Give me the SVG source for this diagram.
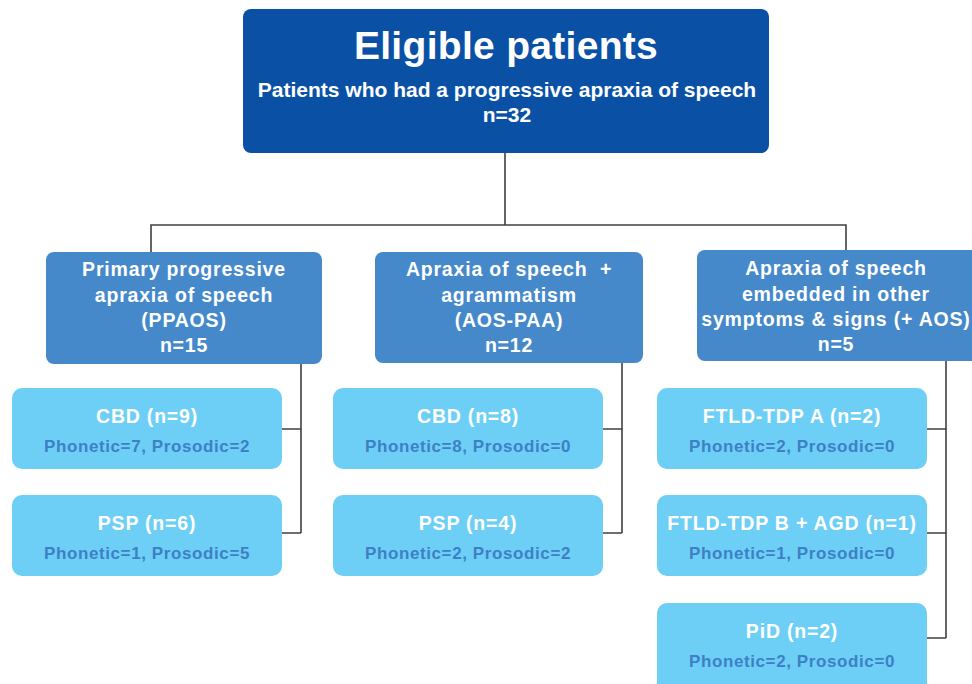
<svg xmlns="http://www.w3.org/2000/svg" width="972" height="684" viewBox="0 0 972 684">
  <style>
    text { font-family: "Liberation Sans", Arial, sans-serif; font-weight: bold; text-anchor: middle; }
    .top { fill: #0a51a6; }
    .group { fill: #4589cb; }
    .leaf { fill: #6dcff6; }
    .title { fill: #ffffff; font-size: 39px; letter-spacing: 0.3px; }
    .sub { fill: #ffffff; font-size: 21px; }
    .head { fill: #ffffff; font-size: 19.5px; letter-spacing: 0.8px; }
    .detail { fill: #3d80c6; font-size: 17px; letter-spacing: 0.6px; }
    .link { fill: none; stroke: #404040; stroke-width: 1.6; }
  </style>
  <rect width="972" height="684" fill="#ffffff"/>

  <!-- connectors -->
  <g id="connectors">
    <path class="link" d="M505 153 V225 M151 252 V225 H846 V251"/>
    <path class="link" d="M301 364 V533 M282 429 H301 M282 533 H301"/>
    <path class="link" d="M622 363 V533 M603 429 H622 M603 533 H622"/>
    <path class="link" d="M946 361 V638 M927 429 H946 M927 533 H946 M927 638 H946"/>
  </g>

  <!-- root -->
  <g id="eligible">
    <rect class="top" x="243" y="9" width="526" height="144" rx="8"/>
    <text class="title" x="506" y="59">Eligible patients</text>
    <text class="sub" x="507" y="97">Patients who had a progressive apraxia of speech</text>
    <text class="sub" x="507" y="122">n=32</text>
  </g>

  <!-- phenotype groups -->
  <g id="ppaos">
    <rect class="group" x="46" y="252" width="276" height="112" rx="8"/>
    <text class="head" x="184" y="276">Primary progressive</text>
    <text class="head" x="184" y="302">apraxia of speech</text>
    <text class="head" x="184" y="327">(PPAOS)</text>
    <text class="head" x="184" y="352">n=15</text>
  </g>
  <g id="aos-paa">
    <rect class="group" x="375" y="252" width="268" height="111" rx="8"/>
    <text class="head" x="509" y="276" xml:space="preserve">Apraxia of speech  +</text>
    <text class="head" x="509" y="302">agrammatism</text>
    <text class="head" x="509" y="327">(AOS-PAA)</text>
    <text class="head" x="509" y="352">n=12</text>
  </g>
  <g id="aos-plus">
    <rect class="group" x="697" y="250" width="282" height="111" rx="8"/>
    <text class="head" x="836" y="275">Apraxia of speech</text>
    <text class="head" x="836" y="301">embedded in other</text>
    <text class="head" x="836" y="326">symptoms &amp; signs (+ AOS)</text>
    <text class="head" x="836" y="351">n=5</text>
  </g>

  <!-- PPAOS pathologies -->
  <g id="ppaos-cbd">
    <rect class="leaf" x="12" y="388" width="270" height="81" rx="10"/>
    <text class="head" x="147" y="423">CBD (n=9)</text>
    <text class="detail" x="147" y="452">Phonetic=7, Prosodic=2</text>
  </g>
  <g id="ppaos-psp">
    <rect class="leaf" x="12" y="495" width="270" height="81" rx="10"/>
    <text class="head" x="147" y="530">PSP (n=6)</text>
    <text class="detail" x="147" y="559">Phonetic=1, Prosodic=5</text>
  </g>

  <!-- AOS-PAA pathologies -->
  <g id="aospaa-cbd">
    <rect class="leaf" x="333" y="388" width="270" height="81" rx="10"/>
    <text class="head" x="468" y="423">CBD (n=8)</text>
    <text class="detail" x="468" y="452">Phonetic=8, Prosodic=0</text>
  </g>
  <g id="aospaa-psp">
    <rect class="leaf" x="333" y="495" width="270" height="81" rx="10"/>
    <text class="head" x="468" y="530">PSP (n=4)</text>
    <text class="detail" x="468" y="559">Phonetic=2, Prosodic=2</text>
  </g>

  <!-- +AOS pathologies -->
  <g id="aosplus-tdpa">
    <rect class="leaf" x="657" y="388" width="270" height="81" rx="10"/>
    <text class="head" x="792" y="423">FTLD-TDP A (n=2)</text>
    <text class="detail" x="792" y="452">Phonetic=2, Prosodic=0</text>
  </g>
  <g id="aosplus-tdpb">
    <rect class="leaf" x="657" y="495" width="270" height="81" rx="10"/>
    <text class="head" x="792" y="530">FTLD-TDP B + AGD (n=1)</text>
    <text class="detail" x="792" y="559">Phonetic=1, Prosodic=0</text>
  </g>
  <g id="aosplus-pid">
    <rect class="leaf" x="657" y="603" width="270" height="90" rx="10"/>
    <text class="head" x="792" y="638">PiD (n=2)</text>
    <text class="detail" x="792" y="667">Phonetic=2, Prosodic=0</text>
  </g>
</svg>
